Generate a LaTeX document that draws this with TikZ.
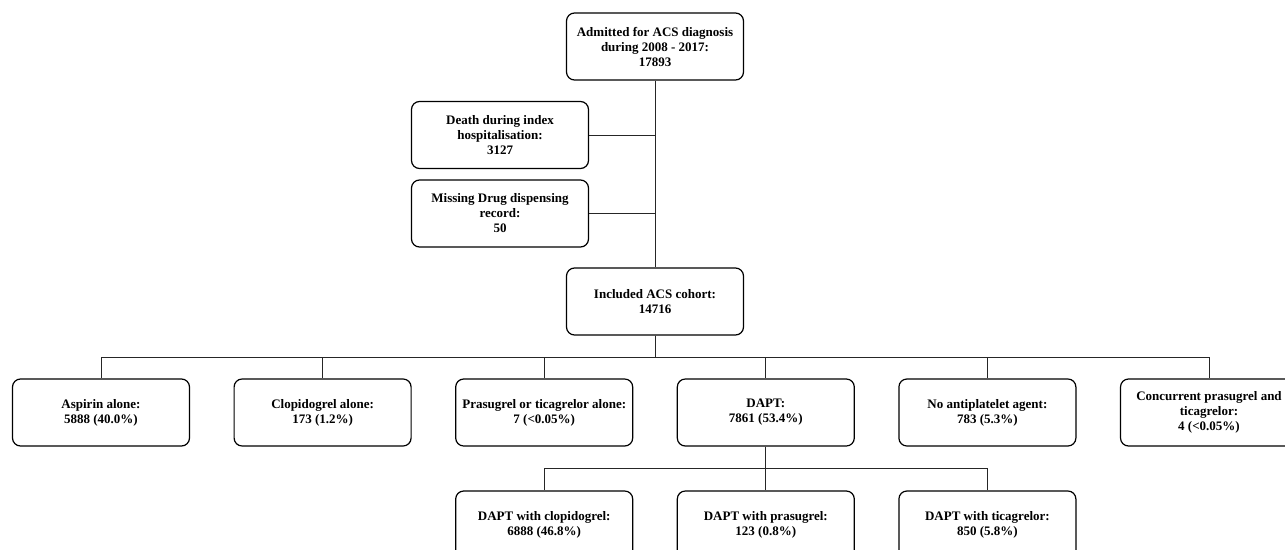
\documentclass[tikz,border=0pt]{standalone}
\usepackage{fontspec}
\setmainfont{Liberation Serif}
\usetikzlibrary{positioning}

\begin{document}
\begin{tikzpicture}[x=1pt, y=-1pt, node distance=221.6pt, on grid, auto,
  box/.style={draw, rounded corners=8pt, line width=1.2pt, minimum width=177pt, minimum height=67pt,
    align=center, inner sep=2pt, font=\fontsize{13}{15}\selectfont\bfseries},
  link/.style={line width=1pt, draw=black!85}]
  \useasboundingbox (0,0) rectangle (1285,549);
  \node[box] (adm) at (655,46.5) {Admitted for ACS diagnosis\\during 2008 - 2017:\\17893};
  \node[box] (death) [below left=88.5pt and 155pt of adm] {Death during index\\hospitalisation:\\3127};
  \node[box] (miss) [below=78.5pt of death] {Missing Drug dispensing\\record:\\50};
  \node[box] (incl) [below=255pt of adm] {Included ACS cohort:\\14716};
  \node[box] (asp) at (101,412.5) {Aspirin alone:\\5888 (40.0\%)};
  \node[box] (clo) [right=of asp] {Clopidogrel alone:\\173 (1.2\%)};
  \node[box] (pra) [right=of clo] {Prasugrel or ticagrelor alone:\\7 (<0.05\%)};
  \node[box] (dapt) [right=of pra] {DAPT:\\7861 (53.4\%)};
  \node[box] (none) [right=of dapt] {No antiplatelet agent:\\783 (5.3\%)};
  \node[box] (conc) [right=of none] {Concurrent prasugrel and\\ticagrelor:\\4 (<0.05\%)};
  \node[box] (dclo) [below=112pt of pra] {DAPT with clopidogrel:\\6888 (46.8\%)};
  \node[box] (dpra) [right=of dclo] {DAPT with prasugrel:\\123 (0.8\%)};
  \node[box] (dtic) [right=of dpra] {DAPT with ticagrelor:\\850 (5.8\%)};

  \draw[link] (adm) -- (incl);
  \draw[link] (death) -- (death -| adm);
  \draw[link] (miss) -- (miss -| adm);
  \foreach \n in {asp,clo,pra,dapt,none,conc}
    \draw[link] (incl.south) -- ++(0,22) -| (\n.north);
  \foreach \n in {dclo,dpra,dtic}
    \draw[link] (dapt.south) -- ++(0,22) -| (\n.north);
\end{tikzpicture}
\end{document}
